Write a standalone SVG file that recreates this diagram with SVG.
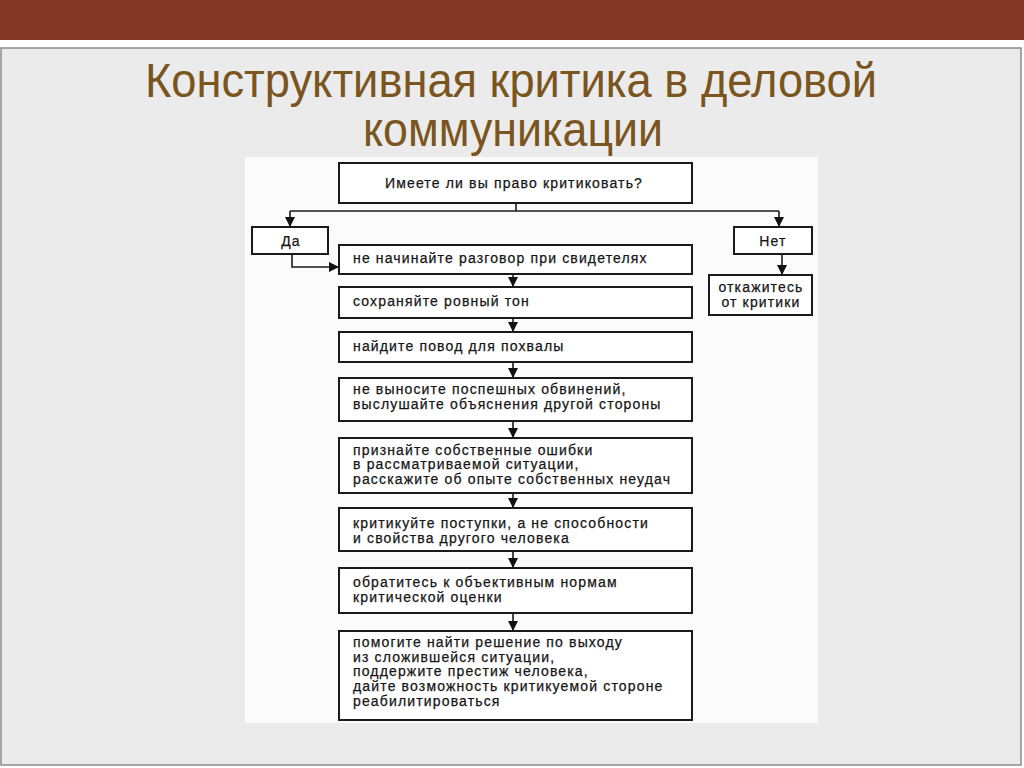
<svg xmlns="http://www.w3.org/2000/svg" width="1024" height="768" viewBox="0 0 1024 768">
<defs>
<marker id="ah" viewBox="0 0 10 10" refX="10" refY="5" markerWidth="10" markerHeight="10" markerUnits="userSpaceOnUse" orient="auto">
<path d="M0,0 L10,5 L0,10 Z" fill="#111"/>
</marker>
<style>
.box{fill:#fff;stroke:#1a1a1a;stroke-width:2}
.t{font-family:"Liberation Sans",Arial,sans-serif;font-size:14px;letter-spacing:1.15px;fill:#161616;stroke:#161616;stroke-width:0.25}
.tc{text-anchor:middle}
.c{fill:none;stroke:#1a1a1a;stroke-width:1.6}
.title{font-family:"Liberation Sans",Arial,sans-serif;font-size:48px;fill:#7a5520}
</style>
</defs>
<rect x="0" y="0" width="1024" height="768" fill="#ffffff"/>
<rect x="0" y="0" width="1024" height="40" fill="#843727"/>
<rect x="1" y="48" width="1020" height="717" fill="#ebebeb" stroke="#8a8a8a" stroke-width="1.5"/>
<text class="title" x="511" y="97" text-anchor="middle" textLength="732" lengthAdjust="spacingAndGlyphs">Конструктивная критика в деловой</text>
<text class="title" x="513" y="146" text-anchor="middle" textLength="300" lengthAdjust="spacingAndGlyphs">коммуникации</text>
<rect x="245" y="157" width="573" height="566" fill="#fbfbfb"/>

<g id="connectors">
<path class="c" d="M516,203 V211"/>
<path class="c" d="M290,211 H779"/>
<path class="c" d="M290,211 V227" marker-end="url(#ah)"/>
<path class="c" d="M779,211 V227" marker-end="url(#ah)"/>
<path class="c" d="M292,254 V267 H339" marker-end="url(#ah)"/>
<path class="c" d="M782,254 V275" marker-end="url(#ah)"/>
<path class="c" d="M513,274 V287" marker-end="url(#ah)"/>
<path class="c" d="M513,318 V332" marker-end="url(#ah)"/>
<path class="c" d="M513,362 V378" marker-end="url(#ah)"/>
<path class="c" d="M513,421 V438" marker-end="url(#ah)"/>
<path class="c" d="M513,493 V508" marker-end="url(#ah)"/>
<path class="c" d="M513,551 V568" marker-end="url(#ah)"/>
<path class="c" d="M513,613 V631" marker-end="url(#ah)"/>
</g>

<g id="q">
<rect class="box" x="339" y="163" width="353" height="40"/>
<text class="t tc" x="514" y="188">Имеете ли вы право критиковать?</text>
</g>
<g id="yes">
<rect class="box" x="252" y="227" width="76" height="27"/>
<text class="t tc" x="291" y="246">Да</text>
</g>
<g id="no">
<rect class="box" x="734" y="227" width="78" height="27"/>
<text class="t tc" x="773" y="246">Нет</text>
</g>
<g id="refuse">
<rect class="box" x="709" y="275" width="103" height="40"/>
<text class="t tc" x="761" y="292">откажитесь</text>
<text class="t tc" x="761" y="307">от критики</text>
</g>
<g id="s1">
<rect class="box" x="339" y="245" width="353" height="29"/>
<text class="t" x="353" y="263">не начинайте разговор при свидетелях</text>
</g>
<g id="s2">
<rect class="box" x="339" y="287" width="353" height="31"/>
<text class="t" x="353" y="306">сохраняйте ровный тон</text>
</g>
<g id="s3">
<rect class="box" x="339" y="332" width="353" height="30"/>
<text class="t" x="353" y="351">найдите повод для похвалы</text>
</g>
<g id="s4">
<rect class="box" x="339" y="378" width="353" height="43"/>
<text class="t" x="353" y="394">не выносите поспешных обвинений,</text>
<text class="t" x="353" y="409">выслушайте объяснения другой стороны</text>
</g>
<g id="s5">
<rect class="box" x="339" y="438" width="353" height="55"/>
<text class="t" x="353" y="455">признайте собственные ошибки</text>
<text class="t" x="353" y="469">в рассматриваемой ситуации,</text>
<text class="t" x="353" y="484">расскажите об опыте собственных неудач</text>
</g>
<g id="s6">
<rect class="box" x="339" y="508" width="353" height="43"/>
<text class="t" x="353" y="528">критикуйте поступки, а не способности</text>
<text class="t" x="353" y="543">и свойства другого человека</text>
</g>
<g id="s7">
<rect class="box" x="339" y="568" width="353" height="45"/>
<text class="t" x="353" y="587">обратитесь к объективным нормам</text>
<text class="t" x="353" y="602">критической оценки</text>
</g>
<g id="s8">
<rect class="box" x="339" y="631" width="353" height="89"/>
<text class="t" x="353" y="647">помогите найти решение по выходу</text>
<text class="t" x="353" y="662">из сложившейся ситуации,</text>
<text class="t" x="353" y="676">поддержите престиж человека,</text>
<text class="t" x="353" y="691">дайте возможность критикуемой стороне</text>
<text class="t" x="353" y="706">реабилитироваться</text>
</g>
</svg>
